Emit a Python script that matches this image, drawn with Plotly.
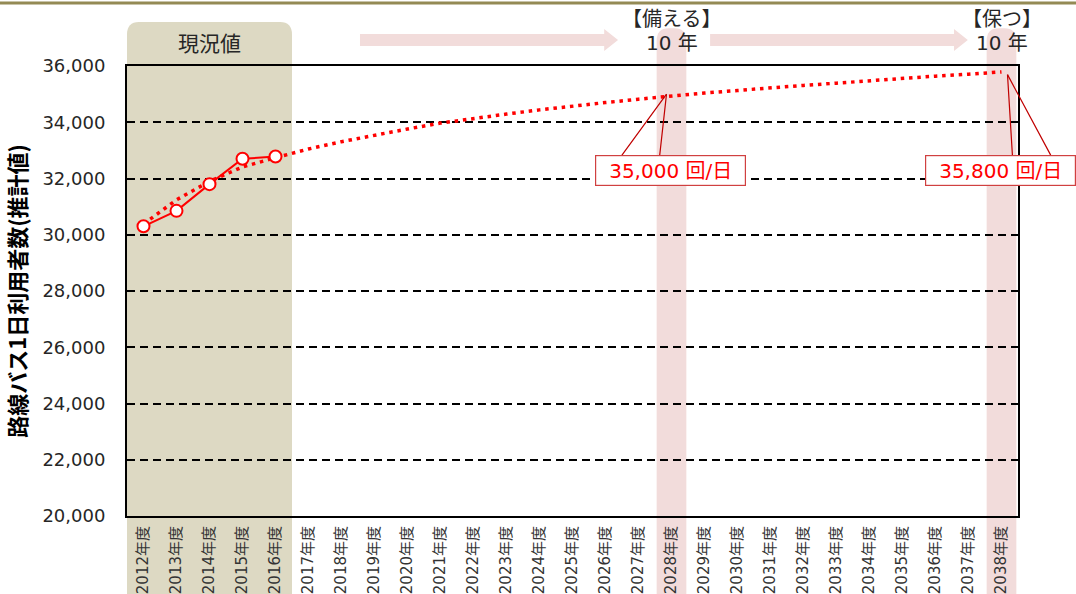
import plotly.graph_objects as go

# fiscal years shown on the x axis
years = list(range(2012, 2039))
year_labels = [f"{y}年度" for y in years]

# observed daily route-bus riders (現況値)
obs_years = [2012, 2013, 2014, 2015, 2016]
obs_riders = [30300, 30850, 31800, 32700, 32780]

# projected trend
trend_riders = [30380, 31240, 31900, 32410, 32740, 33050, 33310, 33550, 33760,
                33970, 34140, 34290, 34440, 34580, 34700, 34820, 34940, 35040,
                35130, 35230, 35310, 35390, 35480, 35560, 35640, 35710, 35790]

y_ticks = list(range(20000, 36001, 2000))

FONT = "DejaVu Sans, Noto Sans CJK JP"
JP = "Noto Sans CJK JP"
RED = "#FF0000"
TAN = "#DDD9C3"
PINK = "#F2DCDB"
INK = "#262626"

fig = go.Figure()

fig.add_trace(go.Scatter(
    x=years, y=trend_riders, mode="lines",
    line=dict(color=RED, width=3.5, dash="3.5px,4.8px"),
    hoverinfo="skip", showlegend=False,
))
fig.add_trace(go.Scatter(
    x=obs_years, y=obs_riders, mode="lines+markers",
    line=dict(color=RED, width=2),
    marker=dict(size=12, color="white", line=dict(color=RED, width=2)),
    showlegend=False,
))

# background bands with rounded tops (x in data, y in paper)
def band(x0, x1, top, color, r=0.36, ry=0.028):
    path = (f"M {x0},-0.3 L {x0},{top - ry} Q {x0},{top} {x0 + r},{top} "
            f"L {x1 - r},{top} Q {x1},{top} {x1},{top - ry} L {x1},-0.3 Z")
    fig.add_shape(type="path", path=path, xref="x", yref="paper",
                  fillcolor=color, line=dict(width=0), layer="below")

band(2011.5, 2016.5, 1.098, TAN)
band(2027.55, 2028.45, 1.084, PINK)
band(2037.55, 2038.45, 1.084, PINK)

# period arrows on top
def arrow(x0, x1, head=0.42):
    y_hi, y_lo, h_hi, h_lo = 1.0711, 1.0444, 1.0822, 1.0333
    ym = (y_hi + y_lo) / 2
    path = (f"M {x0},{y_lo} L {x0},{y_hi} L {x1 - head},{y_hi} L {x1 - head},{h_hi} "
            f"L {x1},{ym} L {x1 - head},{h_lo} L {x1 - head},{y_lo} Z")
    fig.add_shape(type="path", path=path, xref="x", yref="paper",
                  fillcolor=PINK, line=dict(width=0), layer="below")

arrow(2018.56, 2026.38)
arrow(2029.17, 2036.98)

# olive rule across the top
fig.add_shape(type="line", xref="paper", yref="paper", x0=-0.2, x1=1.2,
              y0=1.14, y1=1.14, line=dict(color="#948A54", width=3))

# header texts
fig.add_annotation(x=2014, y=1.053, xref="x", yref="paper", text="現況値",
                   showarrow=False, yanchor="middle",
                   font=dict(size=21, color=INK, family=JP))
for yr, label in [(2028, "【備える】"), (2038, "【保つ】")]:
    fig.add_annotation(x=yr, y=1.1067, xref="x", yref="paper", text=label,
                       showarrow=False, yanchor="middle",
                       font=dict(size=20, color=INK, family=JP))
    fig.add_annotation(x=yr, y=1.051, xref="x", yref="paper", text="10 年",
                       showarrow=False, yanchor="middle",
                       font=dict(size=20, color=INK))

# callouts
callouts = [
    (2028, 35000, "35,000 回/日", -5, 0, [(-46, 63), (-7, 63)], -1, -76.5),
    (2038, 35800, "35,800 回/日", 6, -3, [(5, 82), (44, 82)], -1.5, -99),
]
for x, y, txt, sx, sy, tails, bx, by in callouts:
    for ax, ay in tails:
        fig.add_annotation(x=x, y=y, text="", showarrow=True, arrowhead=0,
                           arrowwidth=1.2, arrowcolor="#C00000",
                           ax=ax, ay=ay, xshift=sx, yshift=sy)
    fig.add_annotation(x=x, y=y, text=txt, showarrow=False, xshift=bx, yshift=by,
                       yanchor="middle", width=147, height=27, borderpad=1,
                       bgcolor="white", bordercolor="#D04040", borderwidth=1.2,
                       font=dict(size=20, color=RED))

fig.update_xaxes(
    range=[2011.5, 2038.5], tickvals=years, ticktext=year_labels,
    tickangle=-90, tickfont=dict(size=15, color="#333333"),
    showgrid=False, showline=True, linecolor="black", linewidth=2,
    mirror=True, ticks="", ticklabelstandoff=2, zeroline=False,
    automargin=False,
)
fig.update_yaxes(
    range=[20000, 36000], tickvals=y_ticks, tickformat=",d",
    tickfont=dict(size=18, color=INK),
    showgrid=True, gridcolor="black", gridwidth=2, griddash="8px,5px",
    showline=True, linecolor="black", linewidth=2, mirror=True,
    ticks="", ticklabelstandoff=16, zeroline=False, automargin=False,
    title=dict(text="<b>路線バス1日利用者数(推計値)</b>",
               font=dict(size=22, color="black", family=JP), standoff=10),
)

fig.update_layout(
    width=1076, height=594,
    margin=dict(l=127, r=58, t=66, b=78, autoexpand=False),
    paper_bgcolor="white", plot_bgcolor="rgba(0,0,0,0)",
    font=dict(family=FONT),
    showlegend=False,
)

fig.write_html("out.html", config={"displayModeBar": False},
               post_script="document.body.style.margin='0';")
